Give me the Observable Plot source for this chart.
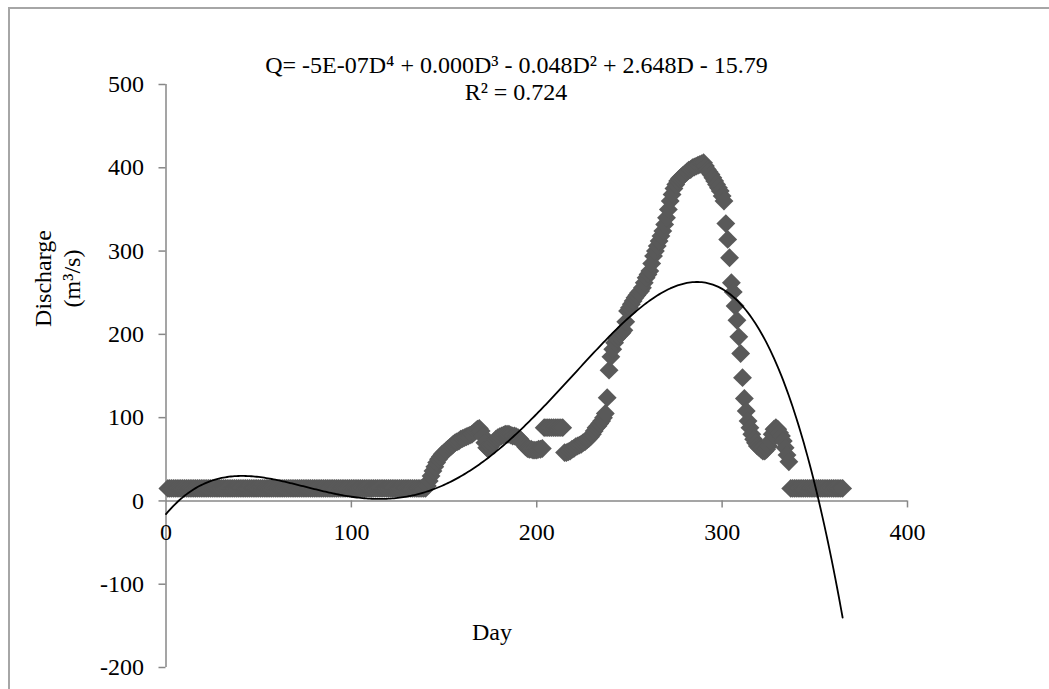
<!DOCTYPE html>
<html>
<head>
<meta charset="utf-8">
<script src="https://cdn.jsdelivr.net/npm/d3@7"></script>
<script src="https://cdn.jsdelivr.net/npm/@observablehq/plot@0.6"></script>
<style>
  html, body { margin: 0; padding: 0; background: #fff; }
  #wrap { position: relative; width: 1049px; height: 689px; overflow: hidden; }
  #border { position: absolute; left: 8px; top: 7px; width: 2000px; height: 2000px;
            border-left: 2px solid #a6a6a6; border-top: 2px solid #a6a6a6; }
  #chart { position: absolute; left: 0; top: 0; }
</style>
</head>
<body>
<div id="wrap"><div id="border"></div><div id="chart"></div></div>
<script>
// ---- data ----
const firstDay = 1;
const discharge = [
  15,15,15,15,15,15,15,15,15,15,15,15,15,15,15,15,15,15,15,15,
  15,15,15,15,15,15,15,15,15,15,15,15,15,15,15,15,15,15,15,15,
  15,15,15,15,15,15,15,15,15,15,15,15,15,15,15,15,15,15,15,15,
  15,15,15,15,15,15,15,15,15,15,15,15,15,15,15,15,15,15,15,15,
  15,15,15,15,15,15,15,15,15,15,15,15,15,15,15,15,15,15,15,15,
  15,15,15,15,15,15,15,15,15,15,15,15,15,15,15,15,15,15,15,15,
  15,15,15,15,15,15,15,15,15,15,15,15,15,15,15,15,15,15,15,15,
  18,24,30,36,41,46,50,53,56,58,
  60,62,64,66,68,70,71,72,74,75,
  76,77,78,79,80,82,84,86,87,84,
  78,70,64,62,65,68,71,74,76,77,
  78,79,80,80,80,79,78,78,77,76,
  74,71,68,65,63,62,62,61,61,61,
  62,62,63,88,88,88,88,88,88,88,
  88,88,88,88,58,58,59,60,62,63,
  65,66,67,68,70,71,73,75,77,80,
  84,88,90,93,96,100,105,124,157,173,
  182,190,195,198,200,202,205,215,228,232,
  236,240,244,247,250,252,256,262,268,272,
  276,285,294,300,306,312,318,324,332,340,
  350,360,368,375,380,384,387,389,391,393,
  395,397,398,400,401,402,403,404,405,406,
  402,398,395,392,388,384,380,376,372,366,
  360,333,314,292,262,251,234,217,197,177,
  148,123,108,96,88,80,74,70,66,64,
  62,60,60,62,66,72,80,86,88,86,
  82,78,72,64,55,47,15,15,15,15,
  15,15,15,15,15,15,15,15,15,15,
  15,15,15,15,15,15,15,15,15,15,
  15,15,15,15,15
];
const xTicks = [0, 100, 200, 300, 400];
const yTicks = [-200, -100, 0, 100, 200, 300, 400, 500];
// polynomial trendline coefficients (constant term first), as fitted in the reference
const trendCoef = [-15.79, 2.648, -0.04832, 2.880e-4, -4.878e-7];
const trendDays = [0, 365];
const equationText = "Q= -5E-07D⁴ + 0.000D³ - 0.048D² + 2.648D - 15.79";
const r2Text = "R² = 0.724";
const xLabel = "Day";
const yLabel = "Discharge\n(m³/s)";

// ---- build tables ----
const points = discharge.map((q, i) => ({day: firstDay + i, q}));
const trend = d3.range(trendDays[0], trendDays[1] + 0.5, 1)
  .map(D => ({day: D, q: trendCoef.reduce((s, c, k) => s + c * Math.pow(D, k), 0)}));

const axisColor = "#878787";
const chart = Plot.plot({
  width: 1049,
  height: 689,
  marginLeft: 165.5,
  marginRight: 142,
  marginTop: 84,
  marginBottom: 22,
  x: {domain: [xTicks[0], xTicks[xTicks.length - 1]], axis: null},
  y: {domain: [yTicks[0], yTicks[yTicks.length - 1]], axis: null},
  style: {fontFamily: "'Liberation Serif', 'Times New Roman', serif", fontSize: "24px", color: "#000", background: "transparent", overflow: "visible"},
  marks: [
    // axes lines
    Plot.ruleX([xTicks[0]], {y1: yTicks[0], y2: yTicks[yTicks.length - 1], stroke: axisColor, strokeWidth: 1.5}),
    Plot.ruleY([0], {x1: xTicks[0], x2: xTicks[xTicks.length - 1], stroke: axisColor, strokeWidth: 1.5}),
    // tick marks
    Plot.ruleY(yTicks, {y: d => d, x1: 0, x2: 0, insetRight: 7, stroke: axisColor, strokeWidth: 1.5}),
    Plot.ruleX(xTicks.slice(1), {x: d => d, y1: 0, y2: 0, insetTop: 7, stroke: axisColor, strokeWidth: 1.5}),
    // data
    Plot.dot(points, {x: "day", y: "q", symbol: "diamond2", r: 8.5, fill: "#595959", stroke: "none"}),
    Plot.line(trend, {x: "day", y: "q", stroke: "#000", strokeWidth: 1.8}),
    // tick labels
    Plot.text(xTicks, {x: d => d, y: 0, text: d => String(d), dy: 31, lineAnchor: "middle", fill: "#000"}),
    Plot.text(yTicks, {x: 0, y: d => d, text: d => String(d), textAnchor: "end", dx: -22, lineAnchor: "middle", fill: "#000"}),
    // equation and R²
    Plot.text([equationText], {frameAnchor: "top-left", text: d => d, dx: 350.5, dy: -12, lineAnchor: "bottom", textAnchor: "middle", fill: "#000"}),
    Plot.text([r2Text], {frameAnchor: "top-left", text: d => d, dx: 350, dy: 15, lineAnchor: "bottom", textAnchor: "middle", fill: "#000"}),
    // axis titles
    Plot.text([xLabel], {frameAnchor: "top-left", text: d => d, dx: 326, dy: 548, lineAnchor: "middle", textAnchor: "middle", fill: "#000"}),
    Plot.text([yLabel], {frameAnchor: "top-left", text: d => d, dx: -109.5, dy: 194, rotate: -90, lineAnchor: "middle", textAnchor: "middle", lineHeight: 1.2, fill: "#000"})
  ]
});
document.getElementById("chart").appendChild(chart);
</script>
</body>
</html>
